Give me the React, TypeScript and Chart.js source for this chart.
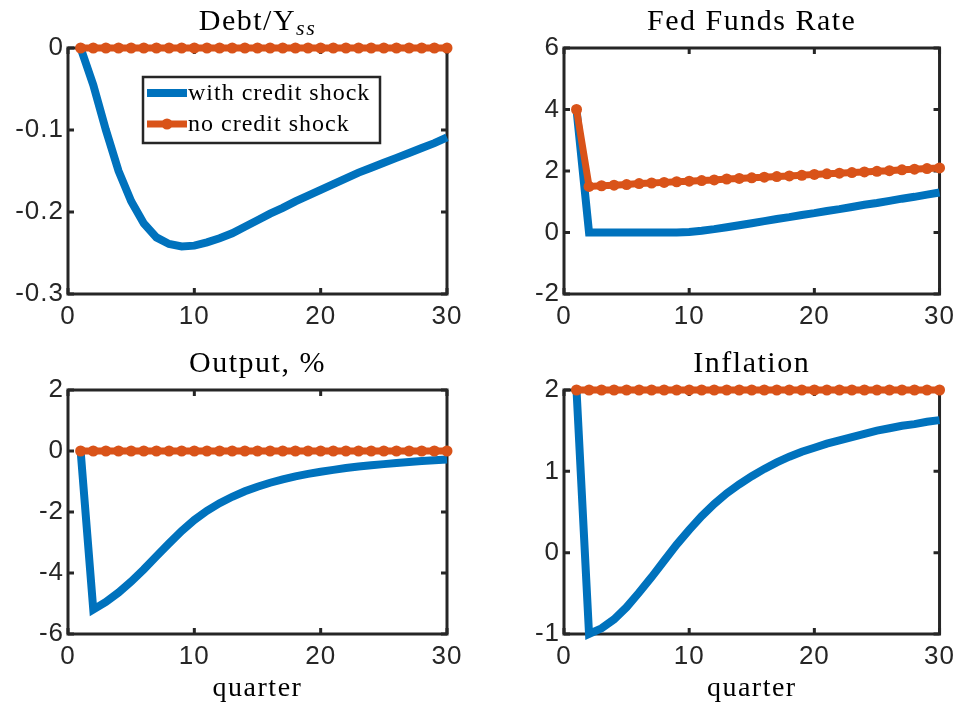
import React, { useEffect, useRef } from "react";
import { Chart, registerables } from "chart.js";

Chart.register(...registerables);

// ---------- data ----------
const quarters = [1, 2, 3, 4, 5, 6, 7, 8, 9, 10, 11, 12, 13, 14, 15, 16, 17, 18, 19, 20, 21, 22, 23, 24, 25, 26, 27, 28, 29, 30];

const debtWith = [0, -0.045, -0.1, -0.15, -0.187, -0.214, -0.231, -0.239, -0.242, -0.241, -0.237, -0.232, -0.226, -0.218, -0.21, -0.202, -0.195, -0.187, -0.18, -0.173, -0.166, -0.159, -0.152, -0.146, -0.14, -0.134, -0.128, -0.122, -0.116, -0.109];
const debtNo = [0, 0, 0, 0, 0, 0, 0, 0, 0, 0, 0, 0, 0, 0, 0, 0, 0, 0, 0, 0, 0, 0, 0, 0, 0, 0, 0, 0, 0, 0];

const ffrWith = [4, 0, 0, 0, 0, 0, 0, 0, 0, 0.02, 0.06, 0.11, 0.17, 0.236, 0.3, 0.37, 0.44, 0.5, 0.57, 0.63, 0.7, 0.76, 0.83, 0.9, 0.96, 1.03, 1.1, 1.16, 1.23, 1.3];
const ffrNo = [4, 1.5, 1.52, 1.54, 1.56, 1.59, 1.61, 1.63, 1.65, 1.67, 1.69, 1.71, 1.74, 1.76, 1.78, 1.8, 1.82, 1.84, 1.86, 1.89, 1.91, 1.93, 1.95, 1.97, 1.99, 2.01, 2.04, 2.06, 2.08, 2.1];

const outWith = [0, -5.2, -4.95, -4.64, -4.28, -3.88, -3.45, -3.03, -2.62, -2.26, -1.96, -1.71, -1.5, -1.32, -1.17, -1.04, -0.93, -0.83, -0.75, -0.68, -0.62, -0.56, -0.51, -0.47, -0.43, -0.39, -0.36, -0.33, -0.3, -0.28];
const outNo = [0, 0, 0, 0, 0, 0, 0, 0, 0, 0, 0, 0, 0, 0, 0, 0, 0, 0, 0, 0, 0, 0, 0, 0, 0, 0, 0, 0, 0, 0];

const inflWith = [2, -1.0, -0.93, -0.82, -0.67, -0.49, -0.3, -0.1, 0.1, 0.28, 0.45, 0.6, 0.73, 0.84, 0.94, 1.03, 1.11, 1.18, 1.24, 1.29, 1.34, 1.38, 1.42, 1.46, 1.5, 1.53, 1.56, 1.58, 1.61, 1.63];
const inflNo = [2, 2, 2, 2, 2, 2, 2, 2, 2, 2, 2, 2, 2, 2, 2, 2, 2, 2, 2, 2, 2, 2, 2, 2, 2, 2, 2, 2, 2, 2];

const xTicks = [0, 10, 20, 30];
const debtTicks = [-0.3, -0.2, -0.1, 0];
const ffrTicks = [-2, 0, 2, 4, 6];
const outTicks = [-6, -4, -2, 0, 2];
const inflTicks = [-1, 0, 1, 2];

const legendLabels = ["with credit shock", "no credit shock"];
const xAxisLabel = "quarter";
const debtTitleMain = "Debt/Y";
const debtTitleSub = "ss";
const ffrTitle = "Fed Funds Rate";
const outTitle = "Output, %";
const inflTitle = "Inflation";

// ---------- styles ----------
const BLUE = "#0072BD";
const RED = "#D95319";
const AXIS = "#262626";
const TICK_FONT = '"Liberation Sans", Arial, sans-serif';
const SERIF = '"Liberation Serif", "Times New Roman", serif';
const BLUE_W = 8;
const RED_W = 7;
const MARKER_R = 5.5;

type Box = { left: number; top: number; w: number; h: number };
type Plot = { l: number; r: number; t: number; b: number };
type TitlePart = { text: string; italic?: boolean; size: number; dy: number };

type SubProps = {
  box: Box;
  plot: Plot;
  withVals: number[];
  noVals: number[];
  yTicks: number[];
  title: TitlePart[];
  legend?: boolean;
  xLabel?: boolean;
};

function fmt(v: number) {
  const r = Math.round(v * 10) / 10;
  return String(r);
}

function SubChart(props: SubProps) {
  const ref = useRef<HTMLCanvasElement | null>(null);
  useEffect(() => {
    const { box, plot, withVals, noVals, yTicks, title, legend, xLabel } = props;
    const canvas = ref.current;
    if (!canvas) return;

    const framePlugin = {
      id: "frame",
      beforeDraw(chart: any) {
        (chart.ctx as any).letterSpacing = "1px";
      },
      beforeDatasetsDraw(chart: any) {
        const ctx = chart.ctx;
        const a = chart.chartArea;
        const xs = chart.scales.x;
        const ys = chart.scales.y;
        ctx.save();
        ctx.strokeStyle = AXIS;
        ctx.lineWidth = 3;
        ctx.lineCap = "square";
        ctx.strokeRect(a.left, a.top, a.right - a.left, a.bottom - a.top);
        ctx.lineCap = "butt";
        const tl = 6;
        xTicks.forEach((v) => {
          const px = xs.getPixelForValue(v);
          ctx.beginPath();
          ctx.moveTo(px, a.bottom);
          ctx.lineTo(px, a.bottom - tl);
          ctx.moveTo(px, a.top);
          ctx.lineTo(px, a.top + tl);
          ctx.stroke();
        });
        yTicks.forEach((v) => {
          const py = ys.getPixelForValue(v);
          ctx.beginPath();
          ctx.moveTo(a.left, py);
          ctx.lineTo(a.left + tl, py);
          ctx.moveTo(a.right, py);
          ctx.lineTo(a.right - tl, py);
          ctx.stroke();
        });
        ctx.restore();
      },
      afterDatasetsDraw(chart: any) {
        if (!legend) return;
        const ctx = chart.ctx;
        const a = chart.chartArea;
        const lx = a.left + 75;
        const ly = a.top + 29;
        const lw = 237;
        const lh = 66;
        ctx.save();
        ctx.fillStyle = "#ffffff";
        ctx.fillRect(lx, ly, lw, lh);
        ctx.strokeStyle = AXIS;
        ctx.lineWidth = 2.5;
        ctx.strokeRect(lx, ly, lw, lh);
        const rows = [ly + 16, ly + 47];
        const colors = [BLUE, RED];
        const widths = [BLUE_W, RED_W];
        rows.forEach((ry, i) => {
          ctx.strokeStyle = colors[i];
          ctx.lineWidth = widths[i];
          ctx.lineCap = "butt";
          ctx.beginPath();
          ctx.moveTo(lx + 4, ry);
          ctx.lineTo(lx + 44, ry);
          ctx.stroke();
          if (i === 1) {
            ctx.fillStyle = RED;
            ctx.beginPath();
            ctx.arc(lx + 24, ry, MARKER_R, 0, Math.PI * 2);
            ctx.fill();
          }
          ctx.fillStyle = "#000000";
          ctx.font = `24px ${SERIF}`;
          (ctx as any).letterSpacing = "1px";
          ctx.textAlign = "left";
          ctx.textBaseline = "middle";
          ctx.fillText(legendLabels[i], lx + 45, ry + 1);
        });
        ctx.restore();
      },
      afterDraw(chart: any) {
        const ctx = chart.ctx;
        const a = chart.chartArea;
        const cx = (a.left + a.right) / 2;
        ctx.save();
        ctx.fillStyle = "#000000";
        ctx.textBaseline = "alphabetic";
        ctx.textAlign = "left";
        (ctx as any).letterSpacing = "1.5px";
        let total = 0;
        const widths = title.map((p) => {
          ctx.font = `${p.italic ? "italic " : ""}${p.size}px ${SERIF}`;
          const w = ctx.measureText(p.text).width;
          total += w;
          return w;
        });
        let x = cx - total / 2;
        title.forEach((p, i) => {
          ctx.font = `${p.italic ? "italic " : ""}${p.size}px ${SERIF}`;
          ctx.fillText(p.text, x, a.top - 18 + p.dy);
          x += widths[i];
        });
        if (xLabel) {
          ctx.font = `28px ${SERIF}`;
          ctx.textAlign = "center";
          ctx.fillText(xAxisLabel, cx, a.bottom + 62);
        }
        ctx.restore();
      },
    };

    const chart = new Chart(canvas, {
      type: "line",
      data: {
        datasets: [
          {
            label: legendLabels[0],
            data: quarters.map((q, i) => ({ x: q, y: withVals[i] })),
            borderColor: BLUE,
            backgroundColor: BLUE,
            borderWidth: BLUE_W,
            pointRadius: 0,
            borderJoinStyle: "miter",
            borderCapStyle: "butt",
            tension: 0,
            clip: false,
            order: 1,
          } as any,
          {
            label: legendLabels[1],
            data: quarters.map((q, i) => ({ x: q, y: noVals[i] })),
            borderColor: RED,
            backgroundColor: RED,
            borderWidth: RED_W,
            pointRadius: MARKER_R,
            pointBackgroundColor: RED,
            pointBorderColor: RED,
            pointBorderWidth: 0,
            borderJoinStyle: "miter",
            borderCapStyle: "butt",
            tension: 0,
            clip: false,
            order: 0,
          } as any,
        ],
      },
      options: {
        animation: false,
        responsive: false,
        devicePixelRatio: 1,
        events: [],
        layout: {
          padding: {
            left: 0,
            right: box.left + box.w - plot.r,
            top: plot.t - box.top,
            bottom: 0,
          },
        },
        plugins: {
          legend: { display: false },
          tooltip: { enabled: false },
          title: { display: false },
        },
        scales: {
          x: {
            type: "linear",
            min: 0,
            max: 30,
            afterBuildTicks: (s: any) => {
              s.ticks = xTicks.map((v) => ({ value: v }));
            },
            afterFit: (s: any) => {
              s.height = box.top + box.h - plot.b;
            },
            grid: { display: false, drawTicks: false, tickLength: 0 },
            border: { display: false },
            ticks: {
              color: AXIS,
              font: { family: TICK_FONT, size: 26 },
              padding: 7,
              maxRotation: 0,
              autoSkip: false,
              callback: (v: any) => String(v),
            },
          },
          y: {
            type: "linear",
            min: yTicks[0],
            max: yTicks[yTicks.length - 1],
            afterBuildTicks: (s: any) => {
              s.ticks = yTicks.map((v) => ({ value: v }));
            },
            afterFit: (s: any) => {
              s.width = plot.l - box.left;
            },
            grid: { display: false, drawTicks: false, tickLength: 0 },
            border: { display: false },
            ticks: {
              color: AXIS,
              font: { family: TICK_FONT, size: 26 },
              padding: 4,
              autoSkip: false,
              callback: (v: any) => fmt(Number(v)),
            },
          },
        },
      } as any,
      plugins: [framePlugin],
    });
    return () => chart.destroy();
  }, []);

  const { box } = props;
  return (
    <canvas
      ref={ref}
      width={box.w}
      height={box.h}
      style={{ position: "absolute", left: box.left, top: box.top, width: box.w, height: box.h }}
    />
  );
}

export default function App() {
  return (
    <div style={{ position: "absolute", left: 0, top: 0, width: 961, height: 706, background: "#ffffff" }}>
      <SubChart
        box={{ left: 0, top: 0, w: 480, h: 340 }}
        plot={{ l: 68, r: 447, t: 48, b: 294 }}
        withVals={debtWith}
        noVals={debtNo}
        yTicks={debtTicks}
        title={[
          { text: debtTitleMain, size: 30, dy: 0 },
          { text: debtTitleSub, italic: true, size: 22, dy: 5 },
        ]}
        legend
      />
      <SubChart
        box={{ left: 480, top: 0, w: 481, h: 340 }}
        plot={{ l: 564, r: 942, t: 48, b: 294 }}
        withVals={ffrWith}
        noVals={ffrNo}
        yTicks={ffrTicks}
        title={[{ text: ffrTitle, size: 30, dy: 0 }]}
      />
      <SubChart
        box={{ left: 0, top: 340, w: 480, h: 366 }}
        plot={{ l: 68, r: 447, t: 390, b: 634 }}
        withVals={outWith}
        noVals={outNo}
        yTicks={outTicks}
        title={[{ text: outTitle, size: 30, dy: 0 }]}
        xLabel
      />
      <SubChart
        box={{ left: 480, top: 340, w: 481, h: 366 }}
        plot={{ l: 564, r: 942, t: 390, b: 634 }}
        withVals={inflWith}
        noVals={inflNo}
        yTicks={inflTicks}
        title={[{ text: inflTitle, size: 30, dy: 0 }]}
        xLabel
      />
    </div>
  );
}
